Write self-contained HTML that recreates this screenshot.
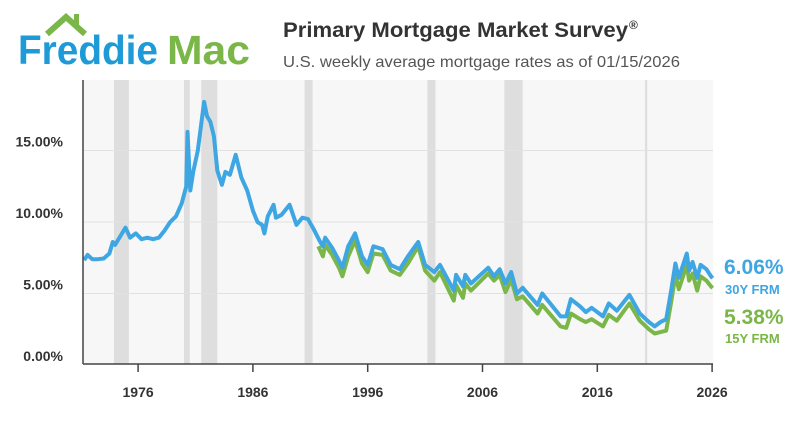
<!DOCTYPE html>
<html><head><meta charset="utf-8"><style>
body{margin:0;background:#fff;width:800px;height:420px;overflow:hidden;font-family:"Liberation Sans",sans-serif}
</style></head><body>
<svg width="800" height="420" xmlns="http://www.w3.org/2000/svg">
<g>
<polyline points="47,34 66,17 85,34" fill="none" stroke="#7ab648" stroke-width="6"/>
<rect x="74" y="14" width="5" height="12" fill="#7ab648"/>
<text x="18" y="64" font-size="41" font-weight="bold" fill="#1e9ad6" textLength="140" lengthAdjust="spacingAndGlyphs">Freddie</text>
<text x="167" y="64" font-size="41" font-weight="bold" fill="#7ab648" textLength="83" lengthAdjust="spacingAndGlyphs">Mac</text>
</g>
<text x="283" y="37" font-size="21" font-weight="bold" fill="#333" textLength="345" lengthAdjust="spacingAndGlyphs">Primary Mortgage Market Survey</text>
<text x="629" y="29" font-size="12" font-weight="bold" fill="#333">®</text>
<text x="283" y="67" font-size="16" fill="#555" textLength="397" lengthAdjust="spacingAndGlyphs">U.S. weekly average mortgage rates as of 01/15/2026</text>
<rect x="83" y="80" width="630" height="284" fill="#f7f7f7"/>
<g id="rec"></g><g id="grid"></g><g id="lines"></g><g id="axes"></g>
<text x="724" y="274" font-size="21" font-weight="bold" fill="#3ea6e3">6.06%</text>
<text x="725" y="294" font-size="13" font-weight="bold" fill="#3ea6e3">30Y FRM</text>
<text x="724" y="324" font-size="21" font-weight="bold" fill="#7ab648">5.38%</text>
<text x="725" y="343" font-size="13" font-weight="bold" fill="#7ab648">15Y FRM</text>
</svg>
<script>
const years30=[1971.3,1971.6,1972,1972.5,1973,1973.5,1973.8,1974,1974.6,1974.9,1975.3,1975.8,1976.3,1976.8,1977.3,1977.8,1978.3,1978.8,1979.3,1979.8,1980.2,1980.3,1980.55,1980.8,1981.2,1981.75,1982.0,1982.3,1982.6,1982.9,1983.3,1983.6,1984.0,1984.5,1985.0,1985.5,1986.0,1986.4,1986.8,1987.0,1987.3,1987.8,1988.0,1988.5,1989.2,1989.8,1990.3,1990.8,1991.3,1991.8,1992.1,1992.3,1992.9,1993.5,1993.8,1994.3,1994.9,1995.5,1996.0,1996.5,1997.3,1998.0,1998.8,1999.5,2000.4,2001.0,2001.8,2002.3,2003.5,2003.7,2004.3,2004.5,2005.0,2006.5,2007.0,2007.5,2008.0,2008.5,2009.0,2009.5,2010.8,2011.2,2012.8,2013.3,2013.7,2014.5,2015.0,2015.5,2016.5,2017.0,2017.7,2018.8,2019.7,2020.5,2021.0,2021.5,2022.0,2022.45,2022.8,2023.1,2023.8,2024.0,2024.3,2024.7,2025.0,2025.5,2025.9,2026.04];
const rate30=[7.33,7.7,7.4,7.4,7.45,7.8,8.6,8.4,9.2,9.6,8.9,9.2,8.8,8.9,8.8,8.9,9.4,10.0,10.4,11.3,12.5,16.3,12.2,13.5,15.0,18.4,17.4,17.0,16.0,13.6,12.6,13.5,13.3,14.7,13.1,12.2,10.8,10.0,9.8,9.2,10.4,11.2,10.3,10.5,11.2,9.8,10.3,10.2,9.5,8.7,8.3,8.9,8.2,7.3,6.8,8.3,9.2,7.6,7.0,8.3,8.1,7.0,6.7,7.6,8.6,7.0,6.5,7.0,5.2,6.3,5.5,6.3,5.7,6.8,6.2,6.7,5.7,6.5,5.0,5.4,4.2,5.0,3.4,3.4,4.6,4.1,3.7,4.0,3.4,4.3,3.8,4.9,3.6,3.0,2.7,3.0,3.2,5.3,7.1,6.1,7.8,6.6,7.2,6.1,7.0,6.7,6.2,6.06];
const years15=[1991.7,1992.1,1992.3,1992.9,1993.5,1993.8,1994.3,1994.9,1995.5,1996.0,1996.5,1997.3,1998.0,1998.8,1999.5,2000.4,2001.0,2001.8,2002.3,2003.5,2003.7,2004.3,2004.5,2005.0,2006.5,2007.0,2007.5,2008.0,2008.5,2009.0,2009.5,2010.8,2011.2,2012.8,2013.3,2013.7,2014.5,2015.0,2015.5,2016.5,2017.0,2017.7,2018.8,2019.7,2020.5,2021.0,2021.5,2022.0,2022.45,2022.8,2023.1,2023.8,2024.0,2024.3,2024.7,2025.0,2025.5,2025.9,2026.04];
const rate15=[8.3,7.6,8.4,7.7,6.8,6.2,7.6,8.7,7.1,6.5,7.8,7.7,6.6,6.3,7.1,8.3,6.6,5.9,6.5,4.5,5.6,4.7,5.7,5.2,6.4,5.9,6.3,5.1,6.0,4.6,4.8,3.6,4.2,2.7,2.6,3.6,3.2,3.0,3.2,2.7,3.5,3.1,4.3,3.1,2.5,2.2,2.3,2.4,4.5,6.3,5.3,7.0,5.9,6.4,5.2,6.2,5.9,5.5,5.38];
const recessions=[[1973.9,1975.2],[1980.0,1980.5],[1981.5,1982.9],[1990.5,1991.2],[2001.2,2001.9],[2007.9,2009.5],[2020.15,2020.35]];
const yTicks=[0,5,10,15];
const yTickLabels=["0.00%","5.00%","10.00%","15.00%"];
const xTicks=[1976,1986,1996,2006,2016,2026];
const NS="http://www.w3.org/2000/svg";
const X=y=>83+(y-1971.2)*11.48, Y=v=>365-v*14.3;
function mk(tag,at,parent){const e=document.createElementNS(NS,tag);for(const k in at)e.setAttribute(k,at[k]);document.getElementById(parent).appendChild(e);return e;}
recessions.forEach(r=>{const e=mk('rect',{x:X(r[0]),y:80,width:X(r[1])-X(r[0]),height:284,fill:'#dedede'},'rec');

});
yTicks.forEach((t,i)=>{if(t>0){const l=mk('line',{x1:83,x2:713,y1:Y(t),y2:Y(t),stroke:'#e2e2e2','stroke-width':1},'grid');

}
const tx=mk('text',{x:63,y:Y(t)-4,'text-anchor':'end','font-size':14,'font-weight':'bold',fill:'#333'},'axes');tx.textContent=yTickLabels[i];

});
function line(xs,vs,col,name){const p=mk('polyline',{points:xs.map((x,i)=>X(x).toFixed(1)+','+Y(vs[i]).toFixed(1)).join(' '),fill:'none',stroke:col,'stroke-width':4,'stroke-linejoin':'round'},'lines');

}
line(years15,rate15,'#7ab648','series-15y-frm');
line(years30,rate30,'#3ea6e3','series-30y-frm');
mk('line',{x1:83,x2:83,y1:80,y2:364,stroke:'#444','stroke-width':1.5},'axes');
mk('line',{x1:83,x2:713,y1:364,y2:364,stroke:'#444','stroke-width':1.5},'axes');
xTicks.forEach(t=>{mk('line',{x1:X(t),x2:X(t),y1:364,y2:372,stroke:'#444','stroke-width':1.5},'axes');
const tx=mk('text',{x:X(t),y:397,'text-anchor':'middle','font-size':14,'font-weight':'bold',fill:'#333'},'axes');tx.textContent=t;

});
</script>
</body></html>
